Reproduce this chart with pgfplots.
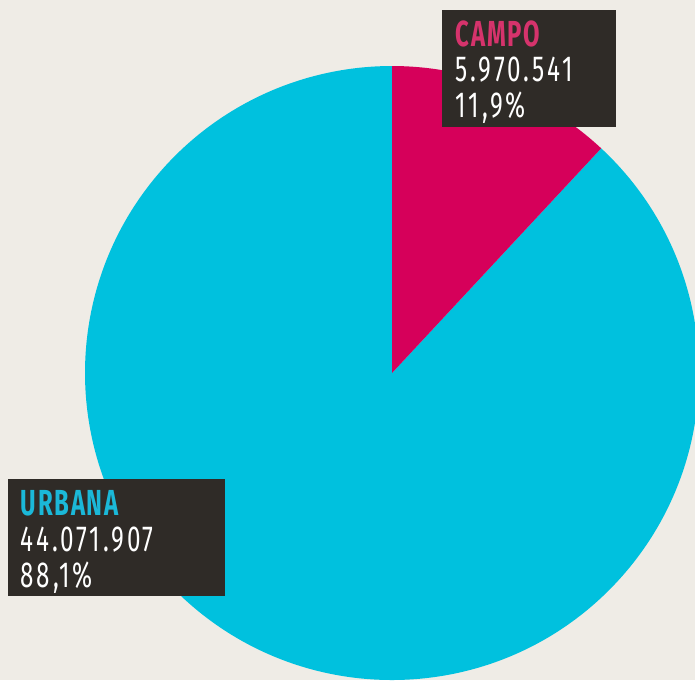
\documentclass[border=0pt]{standalone}
\usepackage{pgfplots}
\pgfplotsset{compat=1.18}
\usepackage{pgfplotstable}
\usepackage{fontspec}
\newfontfamily\dinfont[FakeStretch=0.67, LetterSpace=8]{Fira Sans}
\newfontfamily\dinbold[FakeStretch=0.66, LetterSpace=5]{Fira Sans}
\definecolor{bg}{HTML}{EFECE6}
\definecolor{campo}{HTML}{D6005A}
\definecolor{urbana}{HTML}{00C1DE}
\definecolor{box}{HTML}{2F2B27}
\definecolor{campotxt}{HTML}{D6336C}
\definecolor{urbanatxt}{HTML}{1BB8D8}
% values in millions of inhabitants
\pgfplotstableread{
name value
Campo 5.970541
Urbana 44.071907
}\piedata
\begin{document}
\begin{tikzpicture}
\pgfplotstablegetelem{0}{value}\of\piedata \let\vcampo\pgfplotsretval
\pgfplotstablegetelem{1}{value}\of\piedata \let\vurbana\pgfplotsretval
\pgfmathsetmacro\acampo{360*\vcampo/(\vcampo+\vurbana)}
\clip (0,0) rectangle (6.95cm,6.8cm);
\begin{axis}[
  scale only axis, width=6.95cm, height=6.8cm,
  xmin=0, xmax=695, ymin=0, ymax=680,
  hide axis, clip=false,
]
\fill[bg] (axis cs:0,0) rectangle (axis cs:695,680);
\fill[urbana] (axis cs:392,307) -- ++(90-\acampo:3.07cm)
   arc[start angle=90-\acampo, end angle=-270, radius=3.07cm] -- cycle;
\fill[campo] (axis cs:392,307) -- ++(90:3.07cm)
   arc[start angle=90, end angle=90-\acampo, radius=3.07cm] -- cycle;
% label boxes
\fill[box] (axis cs:442,553) rectangle (axis cs:616,670);
\fill[box] (axis cs:8,84) rectangle (axis cs:225,201);
\begin{scope}[every node/.style={anchor=base west, inner sep=0pt, font=\dinfont\fontsize{10.3}{11}\selectfont}]
\node[text=campotxt, font=\dinbold\bfseries\fontsize{10.3}{11}\selectfont] at (axis cs:455,634) {CAMPO};
\node[text=white] at (axis cs:455,599) {5.970.541};
\node[text=white] at (axis cs:455,563) {11,9\%};
\node[text=urbanatxt, font=\dinbold\bfseries\fontsize{10.3}{11}\selectfont] at (axis cs:20,165) {URBANA};
\node[text=white] at (axis cs:20,129) {44.071.907};
\node[text=white] at (axis cs:20,93) {88,1\%};
\end{scope}
\end{axis}
\end{tikzpicture}
\end{document}
